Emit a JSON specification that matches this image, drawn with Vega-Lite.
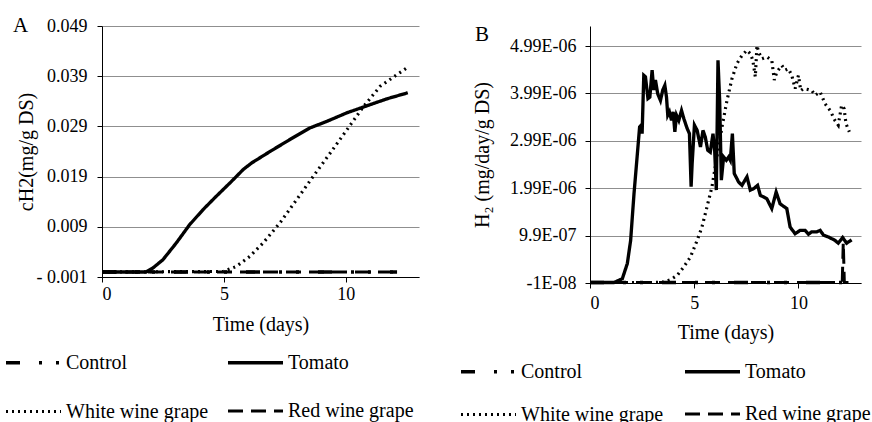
{
  "$schema": "https://vega.github.io/schema/vega-lite/v6.json",
  "background": "white",
  "padding": {"left": 4, "top": 15, "right": 0, "bottom": 0},
  "bounds": "flush",
  "spacing": 171,
  "config": {
    "font": "Liberation Serif",
    "view": {"stroke": null},
    "axis": {
      "labelFont": "Liberation Serif", "labelFontSize": 18, "labelColor": "black",
      "titleFont": "Liberation Serif", "titleFontSize": 20, "titleFontWeight": "normal", "titleColor": "black",
      "domainColor": "black", "domainWidth": 1, "tickColor": "black", "tickSize": 5,
      "gridColor": "#8f8f8f", "gridWidth": 1
    },
    "legend": {
      "labelFont": "Liberation Serif", "labelFontSize": 20, "labelColor": "black", "labelLimit": 300,
      "symbolType": "stroke", "symbolSize": 3025, "symbolStrokeColor": "black", "labelOffset": 3, "padding": 0
    },
    "title": {"font": "Liberation Serif", "fontSize": 21, "fontWeight": "normal", "color": "black"}
  },
  "datasets": {
    "a": [
      {"series": "Control", "day": 0, "value": 0},
      {"series": "Control", "day": 3, "value": 0},
      {"series": "Control", "day": 6, "value": 0},
      {"series": "Control", "day": 9, "value": 0},
      {"series": "Control", "day": 12.1, "value": 0},
      {"series": "Red wine grape", "day": 0, "value": 0},
      {"series": "Red wine grape", "day": 3, "value": 0},
      {"series": "Red wine grape", "day": 6, "value": 0},
      {"series": "Red wine grape", "day": 9, "value": 0},
      {"series": "Red wine grape", "day": 12.1, "value": 0},
      {"series": "White wine grape", "day": 0, "value": 0},
      {"series": "White wine grape", "day": 4.97, "value": 0.0001},
      {"series": "White wine grape", "day": 5.51, "value": 0.0011},
      {"series": "White wine grape", "day": 6.06, "value": 0.0031},
      {"series": "White wine grape", "day": 6.61, "value": 0.0058},
      {"series": "White wine grape", "day": 7.3, "value": 0.0098},
      {"series": "White wine grape", "day": 7.98, "value": 0.0144},
      {"series": "White wine grape", "day": 8.67, "value": 0.0191},
      {"series": "White wine grape", "day": 9.36, "value": 0.0237},
      {"series": "White wine grape", "day": 10.04, "value": 0.0283},
      {"series": "White wine grape", "day": 10.73, "value": 0.033},
      {"series": "White wine grape", "day": 11.41, "value": 0.037},
      {"series": "White wine grape", "day": 12.48, "value": 0.0406},
      {"series": "Tomato", "day": 0, "value": 0},
      {"series": "Tomato", "day": 1.0, "value": 0},
      {"series": "Tomato", "day": 1.81, "value": 0},
      {"series": "Tomato", "day": 2.09, "value": 0.0008},
      {"series": "Tomato", "day": 2.5, "value": 0.00245},
      {"series": "Tomato", "day": 3.05, "value": 0.0058},
      {"series": "Tomato", "day": 3.59, "value": 0.0094},
      {"series": "Tomato", "day": 4.14, "value": 0.0124},
      {"series": "Tomato", "day": 4.69, "value": 0.0151},
      {"series": "Tomato", "day": 5.24, "value": 0.0177},
      {"series": "Tomato", "day": 5.79, "value": 0.0204},
      {"series": "Tomato", "day": 6.13, "value": 0.0217},
      {"series": "Tomato", "day": 6.89, "value": 0.024},
      {"series": "Tomato", "day": 7.71, "value": 0.0264},
      {"series": "Tomato", "day": 8.53, "value": 0.0287},
      {"series": "Tomato", "day": 9.22, "value": 0.03},
      {"series": "Tomato", "day": 10.04, "value": 0.0317},
      {"series": "Tomato", "day": 10.86, "value": 0.0331},
      {"series": "Tomato", "day": 11.69, "value": 0.0345},
      {"series": "Tomato", "day": 12.54, "value": 0.0357}
    ],
    "b": [
      {"series": "Control", "day": 0, "value": 0},
      {"series": "Control", "day": 3, "value": 0},
      {"series": "Control", "day": 6, "value": 0},
      {"series": "Control", "day": 9, "value": 0},
      {"series": "Control", "day": 12.5, "value": 0},
      {"series": "Red wine grape", "day": 0, "value": 0},
      {"series": "Red wine grape", "day": 4, "value": 0},
      {"series": "Red wine grape", "day": 8, "value": 0},
      {"series": "Red wine grape", "day": 12.1, "value": 0},
      {"series": "Red wine grape", "day": 12.15, "value": 8.5e-7},
      {"series": "Red wine grape", "day": 12.2, "value": 0},
      {"series": "Red wine grape", "day": 12.5, "value": 0},
      {"series": "White wine grape", "day": 0, "value": 0},
      {"series": "White wine grape", "day": 3.0, "value": 0},
      {"series": "White wine grape", "day": 3.54, "value": 1e-8},
      {"series": "White wine grape", "day": 3.86, "value": 6e-8},
      {"series": "White wine grape", "day": 4.18, "value": 1.5e-7},
      {"series": "White wine grape", "day": 4.5, "value": 3.3e-7},
      {"series": "White wine grape", "day": 4.82, "value": 5.4e-7},
      {"series": "White wine grape", "day": 5.14, "value": 8.9e-7},
      {"series": "White wine grape", "day": 5.37, "value": 1.17e-6},
      {"series": "White wine grape", "day": 5.61, "value": 1.59e-6},
      {"series": "White wine grape", "day": 5.85, "value": 2.02e-6},
      {"series": "White wine grape", "day": 6.09, "value": 2.65e-6},
      {"series": "White wine grape", "day": 6.33, "value": 3.28e-6},
      {"series": "White wine grape", "day": 6.57, "value": 3.84e-6},
      {"series": "White wine grape", "day": 6.81, "value": 4.3e-6},
      {"series": "White wine grape", "day": 7.05, "value": 4.62e-6},
      {"series": "White wine grape", "day": 7.29, "value": 4.79e-6},
      {"series": "White wine grape", "day": 7.53, "value": 4.9e-6},
      {"series": "White wine grape", "day": 7.69, "value": 4.83e-6},
      {"series": "White wine grape", "day": 7.81, "value": 4.69e-6},
      {"series": "White wine grape", "day": 7.93, "value": 4.34e-6},
      {"series": "White wine grape", "day": 8.01, "value": 5.0e-6},
      {"series": "White wine grape", "day": 8.09, "value": 4.86e-6},
      {"series": "White wine grape", "day": 8.25, "value": 4.72e-6},
      {"series": "White wine grape", "day": 8.48, "value": 4.76e-6},
      {"series": "White wine grape", "day": 8.72, "value": 4.69e-6},
      {"series": "White wine grape", "day": 8.84, "value": 4.27e-6},
      {"series": "White wine grape", "day": 8.96, "value": 4.44e-6},
      {"series": "White wine grape", "day": 9.2, "value": 4.58e-6},
      {"series": "White wine grape", "day": 9.36, "value": 4.48e-6},
      {"series": "White wine grape", "day": 9.52, "value": 4.51e-6},
      {"series": "White wine grape", "day": 9.68, "value": 4.37e-6},
      {"series": "White wine grape", "day": 9.84, "value": 4.09e-6},
      {"series": "White wine grape", "day": 10.0, "value": 4.37e-6},
      {"series": "White wine grape", "day": 10.11, "value": 4.05e-6},
      {"series": "White wine grape", "day": 10.24, "value": 4.09e-6},
      {"series": "White wine grape", "day": 10.48, "value": 4.07e-6},
      {"series": "White wine grape", "day": 10.64, "value": 4.05e-6},
      {"series": "White wine grape", "day": 10.8, "value": 3.95e-6},
      {"series": "White wine grape", "day": 11.04, "value": 4.02e-6},
      {"series": "White wine grape", "day": 11.28, "value": 3.77e-6},
      {"series": "White wine grape", "day": 11.52, "value": 3.63e-6},
      {"series": "White wine grape", "day": 11.75, "value": 3.42e-6},
      {"series": "White wine grape", "day": 11.91, "value": 3.32e-6},
      {"series": "White wine grape", "day": 12.07, "value": 3.74e-6},
      {"series": "White wine grape", "day": 12.19, "value": 3.67e-6},
      {"series": "White wine grape", "day": 12.28, "value": 3.35e-6},
      {"series": "White wine grape", "day": 12.44, "value": 3.18e-6},
      {"series": "Tomato", "day": 0, "value": 0},
      {"series": "Tomato", "day": 1.15, "value": 0},
      {"series": "Tomato", "day": 1.55, "value": 8e-8},
      {"series": "Tomato", "day": 1.79, "value": 4.0e-7},
      {"series": "Tomato", "day": 1.95, "value": 8.9e-7},
      {"series": "Tomato", "day": 2.11, "value": 1.87e-6},
      {"series": "Tomato", "day": 2.26, "value": 2.65e-6},
      {"series": "Tomato", "day": 2.38, "value": 3.28e-6},
      {"series": "Tomato", "day": 2.46, "value": 3.32e-6},
      {"series": "Tomato", "day": 2.5, "value": 3.14e-6},
      {"series": "Tomato", "day": 2.58, "value": 4.37e-6},
      {"series": "Tomato", "day": 2.66, "value": 4.34e-6},
      {"series": "Tomato", "day": 2.78, "value": 3.88e-6},
      {"series": "Tomato", "day": 2.87, "value": 3.91e-6},
      {"series": "Tomato", "day": 2.98, "value": 4.48e-6},
      {"series": "Tomato", "day": 3.06, "value": 4.06e-6},
      {"series": "Tomato", "day": 3.14, "value": 4.27e-6},
      {"series": "Tomato", "day": 3.25, "value": 3.98e-6},
      {"series": "Tomato", "day": 3.38, "value": 3.84e-6},
      {"series": "Tomato", "day": 3.49, "value": 4.06e-6},
      {"series": "Tomato", "day": 3.59, "value": 4.16e-6},
      {"series": "Tomato", "day": 3.67, "value": 3.91e-6},
      {"series": "Tomato", "day": 3.73, "value": 3.53e-6},
      {"series": "Tomato", "day": 3.81, "value": 3.6e-6},
      {"series": "Tomato", "day": 3.91, "value": 3.42e-6},
      {"series": "Tomato", "day": 3.99, "value": 3.6e-6},
      {"series": "Tomato", "day": 4.07, "value": 3.18e-6},
      {"series": "Tomato", "day": 4.15, "value": 3.53e-6},
      {"series": "Tomato", "day": 4.26, "value": 3.42e-6},
      {"series": "Tomato", "day": 4.39, "value": 3.63e-6},
      {"series": "Tomato", "day": 4.5, "value": 3.46e-6},
      {"series": "Tomato", "day": 4.66, "value": 3.25e-6},
      {"series": "Tomato", "day": 4.77, "value": 3.14e-6},
      {"series": "Tomato", "day": 4.85, "value": 2.02e-6},
      {"series": "Tomato", "day": 4.9, "value": 2.51e-6},
      {"series": "Tomato", "day": 5.01, "value": 3.32e-6},
      {"series": "Tomato", "day": 5.14, "value": 3.21e-6},
      {"series": "Tomato", "day": 5.3, "value": 2.86e-6},
      {"series": "Tomato", "day": 5.42, "value": 3.21e-6},
      {"series": "Tomato", "day": 5.53, "value": 3.07e-6},
      {"series": "Tomato", "day": 5.65, "value": 2.79e-6},
      {"series": "Tomato", "day": 5.77, "value": 2.75e-6},
      {"series": "Tomato", "day": 5.9, "value": 3.14e-6},
      {"series": "Tomato", "day": 5.98, "value": 2.79e-6},
      {"series": "Tomato", "day": 6.06, "value": 1.95e-6},
      {"series": "Tomato", "day": 6.14, "value": 4.69e-6},
      {"series": "Tomato", "day": 6.22, "value": 3.84e-6},
      {"series": "Tomato", "day": 6.3, "value": 2.16e-6},
      {"series": "Tomato", "day": 6.41, "value": 2.65e-6},
      {"series": "Tomato", "day": 6.54, "value": 2.58e-6},
      {"series": "Tomato", "day": 6.65, "value": 2.65e-6},
      {"series": "Tomato", "day": 6.73, "value": 2.58e-6},
      {"series": "Tomato", "day": 6.83, "value": 3.14e-6},
      {"series": "Tomato", "day": 6.92, "value": 2.3e-6},
      {"series": "Tomato", "day": 7.13, "value": 2.12e-6},
      {"series": "Tomato", "day": 7.29, "value": 2.05e-6},
      {"series": "Tomato", "day": 7.53, "value": 2.23e-6},
      {"series": "Tomato", "day": 7.69, "value": 1.95e-6},
      {"series": "Tomato", "day": 7.85, "value": 1.98e-6},
      {"series": "Tomato", "day": 8.04, "value": 2.05e-6},
      {"series": "Tomato", "day": 8.17, "value": 1.84e-6},
      {"series": "Tomato", "day": 8.48, "value": 1.77e-6},
      {"series": "Tomato", "day": 8.72, "value": 1.56e-6},
      {"series": "Tomato", "day": 8.93, "value": 1.91e-6},
      {"series": "Tomato", "day": 9.12, "value": 1.66e-6},
      {"series": "Tomato", "day": 9.44, "value": 1.56e-6},
      {"series": "Tomato", "day": 9.6, "value": 1.17e-6},
      {"series": "Tomato", "day": 9.84, "value": 1.03e-6},
      {"series": "Tomato", "day": 10.08, "value": 1.1e-6},
      {"series": "Tomato", "day": 10.32, "value": 1.1e-6},
      {"series": "Tomato", "day": 10.48, "value": 1.02e-6},
      {"series": "Tomato", "day": 10.64, "value": 1.07e-6},
      {"series": "Tomato", "day": 10.88, "value": 1.07e-6},
      {"series": "Tomato", "day": 11.04, "value": 1.1e-6},
      {"series": "Tomato", "day": 11.2, "value": 1.0e-6},
      {"series": "Tomato", "day": 11.44, "value": 9.6e-7},
      {"series": "Tomato", "day": 11.75, "value": 8.9e-7},
      {"series": "Tomato", "day": 11.91, "value": 8.3e-7},
      {"series": "Tomato", "day": 12.12, "value": 9.5e-7},
      {"series": "Tomato", "day": 12.31, "value": 8.3e-7},
      {"series": "Tomato", "day": 12.55, "value": 9.0e-7}
    ]
  },
  "resolve": {
    "scale": {"strokeDash": "independent", "strokeWidth": "independent", "x": "independent", "y": "independent"},
    "legend": {"strokeDash": "independent", "strokeWidth": "independent"}
  },
  "hconcat": [
    {
      "width": 317,
      "height": 251,
      "title": {"text": "A", "anchor": "start", "frame": "group", "dx": -89, "dy": 36, "baseline": "alphabetic", "offset": 0},
      "data": {"name": "a"},
      "mark": {"type": "line", "color": "black", "strokeCap": "butt"},
      "encoding": {
        "x": {"field": "day", "type": "quantitative", "scale": {"domain": [0, 13], "nice": false},
          "axis": {"values": [0, 5, 10], "title": "Time (days)", "grid": false, "labelPadding": 3, "titlePadding": 11}},
        "y": {"field": "value", "type": "quantitative", "scale": {"domain": [-0.001, 0.049], "nice": false, "zero": false},
          "axis": {"values": [-0.001, 0.009, 0.019, 0.029, 0.039, 0.049], "labelExpr": "datum.value < 0 ? '- 0.001' : format(datum.value, '.3f')", "title": "cH2(mg/g DS)", "labelPadding": 10, "titlePadding": 0}},
        "strokeDash": {"field": "series", "type": "nominal",
          "scale": {"domain": ["Control", "Tomato", "White wine grape", "Red wine grape"], "range": [[14, 19, 3, 14, 3, 19], [1, 0], [2, 4], [15, 8]]},
          "legend": {"title": null, "orient": "none", "legendX": -98, "legendY": 307, "columns": 2, "direction": "horizontal", "columnPadding": 12, "rowPadding": 9}},
        "strokeWidth": {"field": "series", "type": "nominal",
          "scale": {"domain": ["Control", "Tomato", "White wine grape", "Red wine grape"], "range": [3.5, 3, 2.2, 3.5]},
          "legend": {"title": null, "orient": "none", "legendX": -98, "legendY": 307, "columns": 2, "direction": "horizontal", "columnPadding": 12, "rowPadding": 9}}
      }
    },
    {
      "width": 271,
      "height": 257,
      "title": {"text": "B", "anchor": "start", "frame": "group", "dx": -115, "dy": 36, "baseline": "alphabetic", "offset": 0},
      "data": {"name": "b"},
      "mark": {"type": "line", "color": "black", "strokeCap": "butt"},
      "encoding": {
        "x": {"field": "day", "type": "quantitative", "scale": {"domain": [0, 13], "nice": false},
          "axis": {"values": [0, 5, 10], "title": "Time (days)", "grid": false, "labelPadding": 6, "titlePadding": 10}},
        "y": {"field": "value", "type": "quantitative", "scale": {"domain": [-1e-8, 5.412e-6], "nice": false, "zero": false},
          "axis": {"values": [-1e-8, 9.9e-7, 1.99e-6, 2.99e-6, 3.99e-6, 4.99e-6], "labelExpr": "datum.value < 0 ? '-1E-08' : datum.value < 1.5e-6 ? '9.9E-07' : replace(format(datum.value, '.2e'), 'e-6', 'E-06')", "title": "H₂ (mg/day/g DS)", "labelPadding": 9, "titlePadding": 17}},
        "strokeDash": {"field": "series", "type": "nominal",
          "scale": {"domain": ["Control", "Tomato", "White wine grape", "Red wine grape"], "range": [[14, 19, 3, 14, 3, 19], [1, 0], [2, 4], [15, 8]]},
          "legend": {"title": null, "orient": "none", "legendX": -131, "legendY": 316, "columns": 2, "direction": "horizontal", "columnPadding": 14, "rowPadding": 3}},
        "strokeWidth": {"field": "series", "type": "nominal",
          "scale": {"domain": ["Control", "Tomato", "White wine grape", "Red wine grape"], "range": [3.5, 3, 2.2, 3.5]},
          "legend": {"title": null, "orient": "none", "legendX": -131, "legendY": 316, "columns": 2, "direction": "horizontal", "columnPadding": 14, "rowPadding": 3}}
      }
    }
  ]
}
